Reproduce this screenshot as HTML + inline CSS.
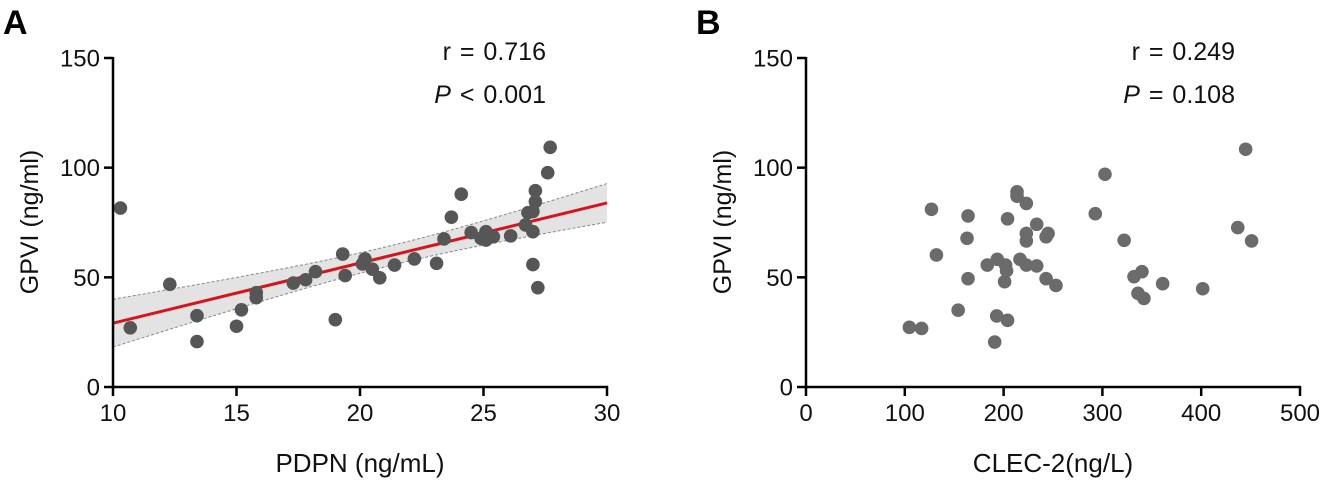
<!DOCTYPE html>
<html><head><meta charset="utf-8"><style>
html,body{margin:0;padding:0;background:#fff;}
svg{display:block;font-family:"Liberation Sans",Arial,sans-serif;}
</style></head><body>
<svg id="chart" width="1328" height="480" viewBox="0 0 1328 480"></svg>
<script>
const aX=[10.3,10.7,12.3,13.4,13.4,15.0,15.2,15.8,15.8,17.3,17.8,18.2,19.0,19.3,19.4,20.2,20.1,20.5,20.8,21.4,22.2,23.1,23.4,23.7,24.1,24.5,24.9,25.1,25.1,25.4,26.1,26.7,26.8,27.0,27.0,27.1,27.1,27.0,27.2,27.6,27.7];
const aY=[81.6,27,46.8,32.5,20.7,27.7,35.2,43,40.7,47.4,48.9,52.6,30.7,60.6,50.8,58.4,56.1,53.7,49.8,55.6,58.4,56.4,67.5,77.4,87.9,70.4,67.8,70.8,67,68.5,68.9,73.9,79.5,80,70.8,89.5,84.5,55.8,45.3,97.7,109.3];
const bX=[104.6,117,127,132,154,164,163,164,183.5,193.6,193,204,191,202,203,201,204,213.6,213.6,223,216.6,223,233.5,233.5,223,223,243,245,243,253,302.6,292.8,322,332,340,336,342,361,401.5,437,451,445];
const bY=[27.2,26.7,81,60.2,35,78,67.8,49.4,55.6,58.2,32.4,30.4,20.5,55.6,53,48,76.7,89,87,83.7,58.2,55.6,55.2,74.2,70,66.6,68.5,70,49.4,46.3,97,79,66.9,50.3,52.6,42.7,40.4,47.1,44.8,72.7,66.6,108.4];
const aXTicks=[10,15,20,25,30];
const bXTicks=[0,100,200,300,400,500];
const yTicks=[0,50,100,150];

const NS="http://www.w3.org/2000/svg";
const svg=document.getElementById('chart');
function mk(tag,attrs,parent,txt){const e=document.createElementNS(NS,tag);for(const k in attrs)e.setAttribute(k,attrs[k]);if(txt!==undefined)e.textContent=txt;(parent||svg).appendChild(e);return e;}
const Y0=387,Y1=58;
function yS(v){return Y0-(v/150)*(Y0-Y1);}

function panel(opt){
  const g=mk('g',{});
  
  
  const xS=v=>opt.x0+(v-opt.d0)/(opt.d1-opt.d0)*(opt.x1-opt.x0);
  if(opt.fit){
    const n=opt.xs.length;let mx=0,my=0;opt.xs.forEach((v,i)=>{mx+=v;my+=opt.ys[i];});mx/=n;my/=n;
    let sxx=0,sxy=0;opt.xs.forEach((v,i)=>{sxx+=(v-mx)**2;sxy+=(v-mx)*(opt.ys[i]-my);});
    const b=sxy/sxx,a=my-b*mx;let sse=0;opt.xs.forEach((v,i)=>{sse+=(opt.ys[i]-a-b*v)**2;});
    const s=Math.sqrt(sse/(n-2)),t=2.02;
    const up=[],lo=[];
    for(let k=0;k<=40;k++){const xv=opt.d0+(opt.d1-opt.d0)*k/40;const h=t*s*Math.sqrt(1/n+(xv-mx)**2/sxx);up.push([xS(xv),yS(a+b*xv+h)]);lo.push([xS(xv),yS(a+b*xv-h)]);}
    const band=mk('path',{d:'M'+up.map(p=>p.join(',')).join('L')+'L'+lo.slice().reverse().map(p=>p.join(',')).join('L')+'Z',fill:'#e3e3e3',stroke:'none'},g);
    
    const ub=mk('path',{d:'M'+up.map(p=>p.join(',')).join('L'),fill:'none',stroke:'#888','stroke-width':1,'stroke-dasharray':'3,2'},g);
    
    const lb=mk('path',{d:'M'+lo.map(p=>p.join(',')).join('L'),fill:'none',stroke:'#888','stroke-width':1,'stroke-dasharray':'3,2'},g);
    
    const rl=mk('line',{x1:xS(opt.d0),y1:yS(a+b*opt.d0),x2:xS(opt.d1),y2:yS(a+b*opt.d1),stroke:'#d7141b','stroke-width':3},g);
    
  }
  opt.xs.forEach((v,i)=>{
    const c=mk('circle',{cx:xS(v),cy:yS(opt.ys[i]),r:6.8,fill:opt.dot},g);
    
    
  });
  const ya=mk('line',{x1:opt.x0,y1:Y1-1,x2:opt.x0,y2:Y0+1.2,stroke:'#000','stroke-width':2.5},g);
  
  const xa=mk('line',{x1:opt.x0-1.2,y1:Y0,x2:opt.x1+1.2,y2:Y0,stroke:'#000','stroke-width':2.5},g);
  
  yTicks.forEach(v=>{
    mk('line',{x1:opt.x0-9,y1:yS(v),x2:opt.x0,y2:yS(v),stroke:'#000','stroke-width':2.5},g);
    const t=mk('text',{x:opt.x0-13,y:yS(v)+8.5,'text-anchor':'end','font-size':24,fill:'#111'},g,String(v));
    
  });
  opt.xt.forEach(v=>{
    mk('line',{x1:xS(v),y1:Y0,x2:xS(v),y2:Y0+9,stroke:'#000','stroke-width':2.5},g);
    const t=mk('text',{x:xS(v),y:Y0+34,'text-anchor':'middle','font-size':24,fill:'#111'},g,String(v));
    
  });
  const xt=mk('text',{x:(opt.x0+opt.x1)/2,y:472,'text-anchor':'middle','font-size':26,fill:'#111'},g,opt.xtitle);
  
  const yt=mk('text',{x:0,y:0,'text-anchor':'middle','font-size':25,fill:'#111',transform:`translate(${opt.x0-75},222) rotate(-90)`},g,'GPVI (ng/ml)');
  
  const lt=mk('text',{x:opt.x0-110,y:34,'font-size':34,'font-weight':'bold',fill:'#000'},g,opt.letter);
  
  const r=mk('text',{x:opt.statX,y:60,'text-anchor':'end','font-size':25,fill:'#111','word-spacing':2},g,opt.r);
  
  const p=mk('text',{x:opt.statX,y:103,'text-anchor':'end','font-size':25,fill:'#111','word-spacing':2},g);
  
  mk('tspan',{'font-style':'italic'},p,'P');
  mk('tspan',{},p,opt.p);
}
panel({name:'panel-a',letter:'A',x0:113,x1:607,d0:10,d1:30,xs:aX,ys:aY,xt:aXTicks,dot:'#565656',fit:true,xtitle:'PDPN (ng/mL)',r:'r = 0.716',p:' < 0.001',statX:546});
panel({name:'panel-b',letter:'B',x0:806,x1:1300,d0:0,d1:500,xs:bX,ys:bY,xt:bXTicks,dot:'#6b6b6b',fit:false,xtitle:'CLEC-2(ng/L)',r:'r = 0.249',p:' = 0.108',statX:1235});
</script>
</body></html>
